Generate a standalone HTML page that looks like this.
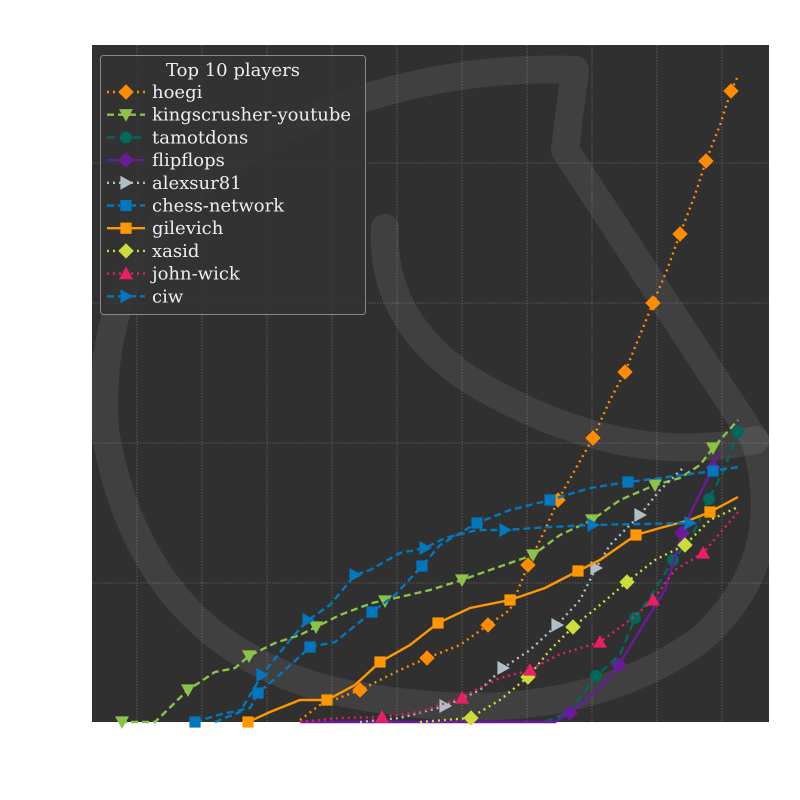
<!DOCTYPE html>
<html><head><meta charset="utf-8"><style>
html,body{margin:0;padding:0;background:#fff;}
svg{display:block;}
text{font-family:"DejaVu Serif","Liberation Serif",serif;}
</style></head><body>
<svg id="s" width="800" height="800" xmlns="http://www.w3.org/2000/svg">
<rect x="92" y="45" width="677" height="677" fill="#303030"/>
<g stroke="#777" stroke-width="0.8" stroke-dasharray="1.5,1.5" opacity="0.8">
<line x1="137" y1="45" x2="137" y2="722"/><line x1="202" y1="45" x2="202" y2="722"/><line x1="267" y1="45" x2="267" y2="722"/><line x1="332" y1="45" x2="332" y2="722"/><line x1="397" y1="45" x2="397" y2="722"/><line x1="462" y1="45" x2="462" y2="722"/><line x1="527" y1="45" x2="527" y2="722"/><line x1="592" y1="45" x2="592" y2="722"/><line x1="657" y1="45" x2="657" y2="722"/><line x1="722" y1="45" x2="722" y2="722"/>
<line x1="92" y1="163" x2="769" y2="163"/><line x1="92" y1="303" x2="769" y2="303"/><line x1="92" y1="443" x2="769" y2="443"/><line x1="92" y1="583" x2="769" y2="583"/>
</g>
<g fill="none" stroke="#fff" stroke-opacity="0.08" stroke-width="28" stroke-linejoin="round" stroke-linecap="round">
<path d="M575,70 L565,150 L755,440 Q790,560 700,640 Q560,740 330,690 Q140,640 105,430 Q90,200 330,110 Q450,65 575,70"/>
<path d="M385,228 Q380,320 470,380 Q620,470 755,440"/>
</g>
<g id="series"></g>
<rect x="100.5" y="55.5" width="265" height="259" rx="3" fill="#333" fill-opacity="0.85" stroke="#888" stroke-width="1"/>
<text x="233" y="76" font-size="18" fill="#eee" text-anchor="middle">Top 10 players</text>
<g id="leg"></g>
</svg>
<script>
var S=[
["hoegi","#ff8c00","2,4","D",[[300,720],[320,705],[360,690],[400,670],[427,658],[460,645],[488,625],[510,610],[528,565],[545,530],[558,500],[575,470],[593,438],[610,400],[625,372],[640,335],[653,303],[667,270],[680,234],[695,195],[706,161],[720,125],[731,91],[738,76]],[[360,690],[427,658],[488,625],[528,565],[558,500],[593,438],[625,372],[653,303],[680,234],[706,161],[731,91]]],
["kingscrusher-youtube","#8bc34a","7,4","v",[[120,722],[155,722],[188,690],[215,672],[235,668],[249,656],[275,643],[300,635],[316,627],[340,615],[372,603],[400,597],[430,590],[462,580],[490,570],[510,563],[533,555],[560,535],[592,520],[620,500],[655,485],[680,478],[700,465],[713,448],[738,420]],[[122,722],[188,690],[249,656],[316,627],[385,601],[462,580],[533,555],[592,520],[655,485],[713,448]]],
["tamotdons","#00695c","8,5","o",[[545,722],[570,712],[596,676],[620,655],[635,618],[655,590],[673,560],[690,540],[709,499],[724,470],[738,432]],[[596,676],[635,618],[673,560],[709,499],[738,432]]],
["flipflops","#6a1b9a","","D",[[300,722],[555,722],[570,713],[600,688],[619,665],[640,630],[665,590],[682,533],[692,510],[713,468],[718,453]],[[570,713],[619,665],[682,533],[713,468]]],
["alexsur81","#b0bec5","2,4",">",[[360,722],[400,718],[445,706],[480,690],[503,668],[530,650],[557,625],[580,600],[596,568],[610,545],[640,515],[660,490],[684,467]],[[445,706],[503,668],[557,625],[596,568],[640,515]]],
["chess-network","#0277bd","7,4","s",[[195,722],[218,715],[250,708],[258,693],[285,670],[310,647],[335,642],[372,612],[395,595],[422,566],[440,545],[477,523],[510,510],[550,500],[590,488],[628,482],[660,478],[713,471],[738,467]],[[195,722],[258,693],[310,647],[372,612],[422,566],[477,523],[550,500],[628,482],[713,471]]],
["gilevich","#ff9800","","s",[[248,722],[270,712],[300,700],[327,700],[355,685],[380,662],[410,645],[438,623],[470,608],[510,600],[545,588],[578,571],[600,560],[636,535],[660,528],[690,520],[710,512],[738,497]],[[248,722],[327,700],[380,662],[438,623],[510,600],[578,571],[636,535],[710,512]]],
["xasid","#cddc39","2,4","D",[[420,722],[470,718],[500,700],[528,677],[550,650],[573,627],[600,605],[627,582],[655,560],[685,545],[710,520],[738,507]],[[471,718],[528,677],[573,627],[627,582],[685,545]]],
["john-wick","#e91e63","2,4","^",[[300,722],[340,718],[382,717],[420,712],[460,698],[500,678],[530,670],[558,655],[600,642],[630,620],[653,600],[675,570],[703,553],[738,512]],[[382,717],[462,698],[530,670],[600,642],[653,600],[703,553]]],
["ciw","#0277bd","7,4",">",[[215,722],[240,712],[262,675],[290,640],[308,620],[330,605],[355,575],[370,570],[400,553],[425,548],[445,538],[477,530],[505,530],[550,527],[593,525],[640,524],[690,523]],[[262,675],[308,620],[355,575],[425,548],[505,530],[593,525],[690,523]]]
];
var NS="http://www.w3.org/2000/svg";
function el(t,a,p){var e=document.createElementNS(NS,t);for(var k in a)e.setAttribute(k,a[k]);p.appendChild(e);return e;}
function mk(sh,x,y,c,p,r){r=r||7;
 if(sh=="D")el("polygon",{points:[x,y-r*1.1,x+r*1.1,y,x,y+r*1.1,x-r*1.1,y].join(","),fill:c},p);
 else if(sh=="s")el("rect",{x:x-r*0.8,y:y-r*0.8,width:r*1.6,height:r*1.6,fill:c},p);
 else if(sh=="o")el("circle",{cx:x,cy:y,r:r*0.85,fill:c},p);
 else if(sh=="v")el("polygon",{points:[x-r,y-r*0.8,x+r,y-r*0.8,x,y+r].join(","),fill:c},p);
 else if(sh=="^")el("polygon",{points:[x-r,y+r*0.8,x+r,y+r*0.8,x,y-r].join(","),fill:c},p);
 else if(sh==">")el("polygon",{points:[x-r*0.8,y-r,x-r*0.8,y+r,x+r,y].join(","),fill:c},p);
}
var g=document.getElementById("series"),L=document.getElementById("leg");
S.forEach(function(s,i){
 var a={points:s[4].map(function(p){return p.join(",")}).join(" "),fill:"none",stroke:s[1],"stroke-width":2.4};
 if(s[2])a["stroke-dasharray"]=s[2];
 el("polyline",a,g);
 s[5].forEach(function(p){mk(s[3],p[0],p[1],s[1],g);});
 var y=92+i*22.7;
 var b={x1:107,y1:y,x2:145,y2:y,stroke:s[1],"stroke-width":2.4};if(s[2])b["stroke-dasharray"]=s[2];
 el("line",b,L);mk(s[3],126,y,s[1],L);
 var t=el("text",{x:152,y:y+6,"font-size":18,fill:"#eee"},L);t.textContent=s[0];
});
</script>
</body></html>
